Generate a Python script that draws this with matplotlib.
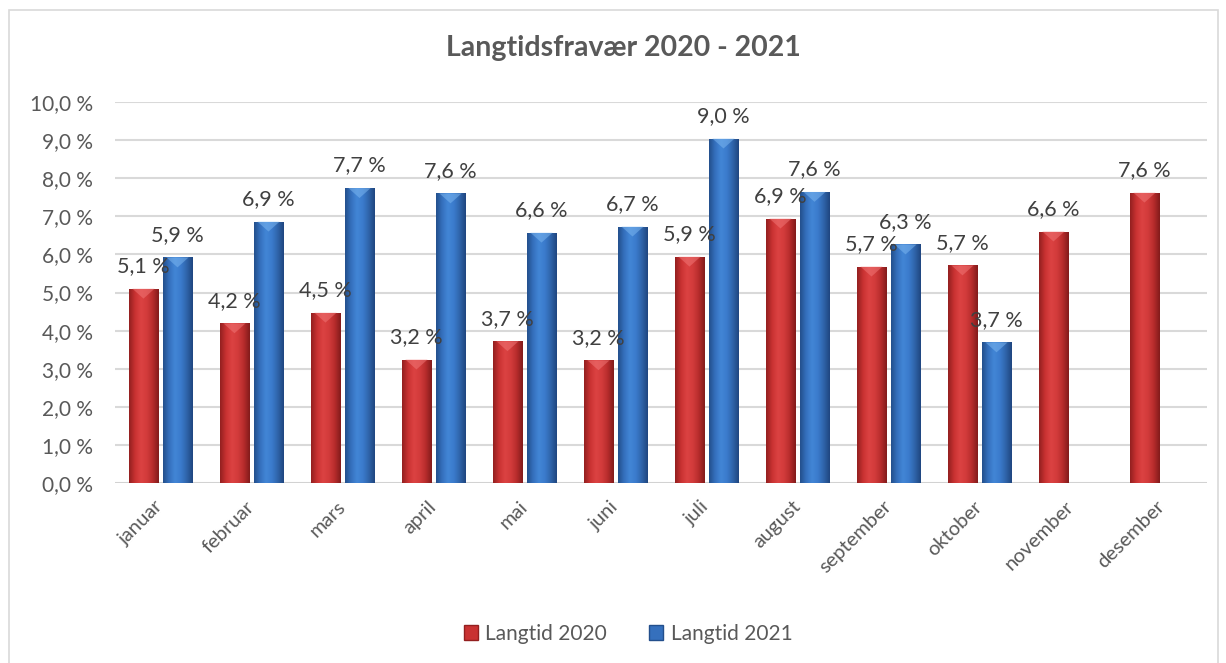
import numpy as np
import matplotlib
matplotlib.use("Agg")
import matplotlib.pyplot as plt
from matplotlib.patches import Rectangle, Patch, Polygon
from matplotlib.colors import LinearSegmentedColormap

months = ["januar", "februar", "mars", "april", "mai", "juni", "juli",
          "august", "september", "oktober", "november", "desember"]
langtid_2020 = [5.10, 4.19, 4.47, 3.24, 3.72, 3.22, 5.94, 6.94, 5.68, 5.71, 6.60, 7.62]
langtid_2021 = [5.92, 6.86, 7.74, 7.60, 6.57, 6.73, 9.04, 7.64, 6.26, 3.69, np.nan, np.nan]
series_names = ["Langtid 2020", "Langtid 2021"]
yticks = [0, 1, 2, 3, 4, 5, 6, 7, 8, 9, 10]

plt.rcParams['font.family'] = ['Lato', 'DejaVu Sans']

W, H = 1226, 663
fig = plt.figure(figsize=(W / 100, H / 100), dpi=100)
fig.patch.set_facecolor("white")

# chart border
fig.add_artist(Rectangle((9 / W, -0.01), (1218 - 9) / W, 1 - 10 / H + 0.01,
                         transform=fig.transFigure, fill=False,
                         edgecolor="#d9d9d9", linewidth=1.2))

ax = fig.add_axes([115 / W, 1 - 483 / H, (1207 - 115) / W, (483 - 102) / H])
ax.set_xlim(-0.5, len(months) - 0.5)
ax.set_ylim(0, 10)
for s in ax.spines.values():
    s.set_visible(False)
ax.set_yticks(yticks)
ax.set_yticklabels([f"{v:.1f} %".replace(".", ",") for v in yticks],
                   color="#595959", fontsize=15)
ax.tick_params(axis="y", length=0, pad=16)
ax.yaxis.grid(True, color="#d9d9d9", linewidth=1.5)
ax.set_axisbelow(True)
ax.axhline(0, color="#d0d0d0", linewidth=1.8, zorder=1)

x = np.arange(len(months))
width = 0.32
off = 0.187

red_cmap = LinearSegmentedColormap.from_list(
    "r", ["#931f1f", "#c93232", "#dc4242", "#d23b3b", "#b72c2c", "#821b1b"])
blue_cmap = LinearSegmentedColormap.from_list(
    "b", ["#234f8c", "#3570bd", "#4286d6", "#3b7bcc", "#2f64aa", "#1f4680"])
grad = np.linspace(0, 1, 64).reshape(1, -1)

def draw_series(vals, offset, cmap, top_col):
    bars = ax.bar(x + offset, vals, width, color="none", edgecolor="none", zorder=2)
    for b in bars:
        h = b.get_height()
        if not np.isfinite(h) or h <= 0:
            continue
        x0, w = b.get_x(), b.get_width()
        im = ax.imshow(grad, cmap=cmap, aspect="auto",
                       extent=(x0, x0 + w, 0, h), zorder=2, interpolation="bicubic")
        im.set_clip_path(b)
        bev = min(0.26, h)
        ax.add_patch(Polygon([(x0 + w * 0.12, h), (x0 + w * 0.88, h),
                              (x0 + w * 0.5, h - bev)],
                             closed=True, facecolor=top_col, edgecolor="none",
                             alpha=0.5, zorder=3))
        ax.annotate(f"{h:.1f} %".replace(".", ","), (x0 + w / 2, h),
                    xytext=(0, 12), textcoords="offset points",
                    ha="center", va="baseline", fontsize=15.5, color="#404040",
                    zorder=5)
    return bars

draw_series(langtid_2020, -off, red_cmap, "#f27a7a")
draw_series(langtid_2021, off, blue_cmap, "#80baf2")
ax.set_xlim(-0.5, len(months) - 0.5)
ax.set_ylim(0, 10)

ax.set_xticks(x)
ax.set_xticklabels(months, rotation=45, ha="right", va="center",
                   rotation_mode="anchor", color="#595959", fontsize=14.5)
ax.tick_params(axis="x", length=0, pad=15)

fig.text(623 / W, 1 - 48 / H, "Langtidsfravær 2020 - 2021", ha="center",
         va="center", fontsize=20.5, fontweight="bold", color="#595959")

handles = [Patch(facecolor="#c93232", edgecolor="#931f1f"),
           Patch(facecolor="#3570bd", edgecolor="#234f8c")]
fig.legend(handles, series_names, loc="center", bbox_to_anchor=(628 / W, 1 - 634 / H),
           ncol=2, frameon=False, fontsize=15, handlelength=0.7, handleheight=0.7,
           handletextpad=0.35, columnspacing=2.0, labelcolor="#595959")

fig.savefig("out.png", dpi=100, facecolor="white")
